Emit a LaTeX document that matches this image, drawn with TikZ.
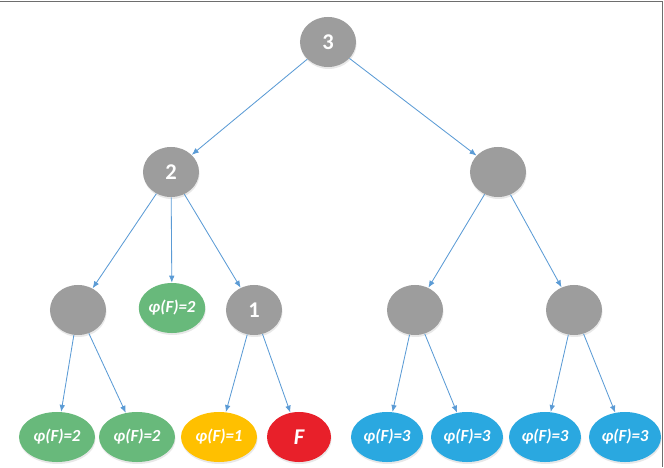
\documentclass[tikz,border=0pt]{standalone}
\usepackage{fontspec}
\setmainfont{Carlito}
\usetikzlibrary{positioning, calc, arrows.meta, shapes.geometric, shadows}

\definecolor{cGrey}{HTML}{9D9D9D}
\definecolor{cGreen}{HTML}{68B97B}
\definecolor{cYellow}{HTML}{FFC000}
\definecolor{cRed}{HTML}{E8202A}
\definecolor{cBlue}{HTML}{2AA8E0}
\definecolor{cEdge}{HTML}{5B9BD5}
\definecolor{cFrame}{HTML}{6E6E6E}

\begin{document}
\begin{tikzpicture}[
  x=0.025cm, y=-0.025cm,
  font=\bfseries\itshape\fontsize{12}{14}\selectfont,
  >={Latex[length=5pt,width=4pt]},
  treenode/.style={ellipse, draw=none, text=white, inner sep=0pt,
                   drop shadow={opacity=0.18, shadow xshift=0.4pt, shadow yshift=-1.4pt}},
  greynode/.style={treenode, fill=cGrey, minimum width=1.4cm, minimum height=1.25cm,
                   font=\bfseries\fontsize{16}{19}\selectfont},
  leafnode/.style={treenode, minimum width=1.9cm, minimum height=1.25cm},
  edge/.style={cEdge, line width=0.6pt, ->},
]
\useasboundingbox (0,0) rectangle (664,467);

% ---------- frame ----------
\draw[cFrame, line width=1.2pt] (0,1.5) -- (662.5,1.5) -- (662.5,467);

% ---------- grey inner nodes ----------
\node[greynode] (root) at (328, 42) {3};
\node[greynode] (n2)   at (171,172) {2};
\node[greynode] (nR)   at (498,172) {};
\node[greynode] (nA)   at ( 78,310) {};
\node[greynode] (n1)   at (254,310) {1};
\node[greynode] (nB)   at (415,310) {};
\node[greynode] (nC)   at (574,310) {};

% ---------- leaves ----------
\node[leafnode, fill=cGreen, minimum width=1.65cm] (nPhi) at (172,308) {φ(F)=2};
\node[leafnode, fill=cGreen]  (l1) at ( 57,437) {φ(F)=2};
\node[leafnode, fill=cGreen]  (l2) at (137,437) {φ(F)=2};
\node[leafnode, fill=cYellow] (l3) at (219,437) {φ(F)=1};
\node[leafnode, fill=cRed, minimum width=1.6cm,
      font=\bfseries\itshape\fontsize{16}{19}\selectfont] (l4) at (299,437) {F};
\node[leafnode, fill=cBlue, minimum width=1.8cm] (l5) at (387,437) {φ(F)=3};
\node[leafnode, fill=cBlue, minimum width=1.8cm] (l6) at (467,437) {φ(F)=3};
\node[leafnode, fill=cBlue, minimum width=1.8cm] (l7) at (545,437) {φ(F)=3};
\node[leafnode, fill=cBlue, minimum width=1.8cm] (l8) at (625,437) {φ(F)=3};

% ---------- edges ----------
\draw[edge] (root) -- (n2);
\draw[edge] (root) -- (nR);
\draw[edge] (n2) -- (nA);
\draw[edge] (n2) -- (nPhi);
\draw[edge] (n2) -- (n1);
\draw[edge] (nR) -- (nB);
\draw[edge] (nR) -- (nC);
\draw[edge] (nA) -- (l1);
\draw[edge] (nA) -- (l2);
\draw[edge] (n1) -- (l3);
\draw[edge] (n1) -- (l4);
\draw[edge] (nB) -- (l5);
\draw[edge] (nB) -- (l6);
\draw[edge] (nC) -- (l7);
\draw[edge] (nC) -- (l8);

\end{tikzpicture}
\end{document}
